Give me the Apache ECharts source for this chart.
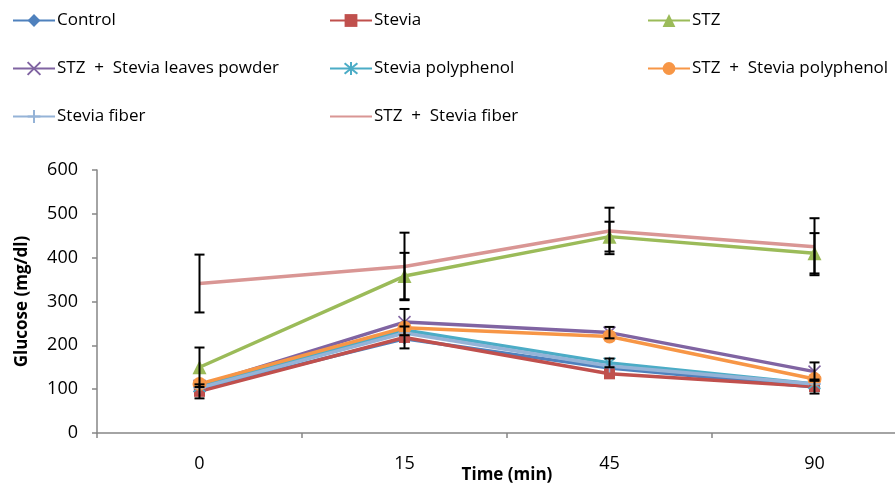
<!DOCTYPE html>
<html>
<head>
<meta charset="utf-8">
<script src="https://cdn.jsdelivr.net/npm/echarts@6/dist/echarts.min.js"></script>
<style>
  html, body { margin: 0; padding: 0; background: #fff; }
  #main { width: 895px; height: 487px; }
</style>
</head>
<body>
<div id="main"></div>
<script>
// time points (min)
var times = ['0', '15', '45', '90'];
var yTicks = [0, 100, 200, 300, 400, 500, 600];

// glucose means (mg/dl)
var control = [100, 215, 148, 105];
var stevia = [95, 218, 135, 106];
var stz = [150, 358, 448, 410];
var stzLeaves = [108, 253, 229, 140];
var polyphenol = [105, 235, 160, 112];
var stzPolyphenol = [112, 240, 220, 123];
var fiber = [103, 228, 153, 112];
var stzFiber = [341, 380, 461, 425];

// error bar half-heights (0 = not shown)
var errStevia = [16, 25, 0, 16];
var errStz = [45, 53, 34, 46];
var errStzLeaves = [0, 30, 13, 21];
var errPolyphenol = [0, 0, 10, 0];
var errStzFiber = [66, 77, 53, 65];

var font = 'Open Sans';
var chart = echarts.init(document.getElementById('main'));

var defs = [
  {name: 'Control', data: control, color: '#4F81BD', symbol: 'diamond', size: 12},
  {name: 'Stevia', data: stevia, color: '#C0504D', symbol: 'rect', size: 11},
  {name: 'STZ', data: stz, color: '#9BBB59', symbol: 'triangle', size: 14},
  {name: 'STZ  +  Stevia leaves powder', data: stzLeaves, color: '#8064A2', symbol: 'path://M0,0L10,10M10,0L0,10', size: 12, stroke: true},
  {name: 'Stevia polyphenol', data: polyphenol, color: '#4BACC6', symbol: 'path://M0,0L10,10M10,0L0,10M5,-1L5,11', size: 12, stroke: true},
  {name: 'STZ  +  Stevia polyphenol', data: stzPolyphenol, color: '#F79646', symbol: 'circle', size: 14},
  {name: 'Stevia fiber', data: fiber, color: '#95B3D7', symbol: 'path://M5,0L5,10M0,5L10,5', size: 13, stroke: true},
  {name: 'STZ  +  Stevia fiber', data: stzFiber, color: '#D99694', symbol: 'none', size: 0}
];

var errDefs = [
  {values: stevia, err: errStevia},
  {values: stz, err: errStz},
  {values: stzLeaves, err: errStzLeaves},
  {values: polyphenol, err: errPolyphenol},
  {values: stzFiber, err: errStzFiber}
];

var errData = [];
errDefs.forEach(function(d) {
  d.err.forEach(function(e, i) {
    if (e > 0) {
      errData.push([i, d.values[i] - e, d.values[i] + e]);
    }
  });
});

var series = defs.map(function(d) {
  return {
    name: d.name,
    type: 'line',
    data: d.data,
    symbol: d.symbol,
    symbolSize: d.size,
    showSymbol: d.symbol != 'none',
    z: 2,
    lineStyle: {color: d.color, width: 3.5},
    itemStyle: d.stroke ? {color: d.color, borderColor: d.color, borderWidth: 1.5} : {color: d.color},
    emphasis: {disabled: true}
  };
});

series.push({
  type: 'custom',
  name: 'err',
  z: 3,
  data: errData,
  renderItem: function(params, api) {
    var x = api.value(0);
    var lo = api.coord([x, api.value(1)]);
    var hi = api.coord([x, api.value(2)]);
    var w = 5;
    var style = {stroke: '#000', lineWidth: 2};
    return {
      type: 'group',
      children: [
        {type: 'line', shape: {x1: lo[0], y1: lo[1], x2: hi[0], y2: hi[1]}, style: style},
        {type: 'line', shape: {x1: lo[0] - w, y1: lo[1], x2: lo[0] + w, y2: lo[1]}, style: style},
        {type: 'line', shape: {x1: hi[0] - w, y1: hi[1], x2: hi[0] + w, y2: hi[1]}, style: style}
      ]
    };
  }
});

// one legend per entry, laid out on a 3-column grid
var colX = [12, 329, 647];
var rowY = [12, 60, 108];
var legends = defs.map(function(d, i) {
  var item = {name: d.name};
  if (d.symbol == 'none') {
    item.itemStyle = {opacity: 0};
  }
  return {
    data: [item],
    left: colX[i % 3],
    top: rowY[Math.floor(i / 3)],
    itemWidth: 42,
    itemHeight: 16,
    itemGap: 0,
    padding: 0,
    selectedMode: false,
    textStyle: {fontFamily: font, fontSize: 17, color: '#000', padding: [0, 0, 0, -3]}
  };
});

var option = {
  animation: false,
  legend: legends,
  grid: {left: 97, top: 170, width: 820, height: 263, outerBoundsMode: 'none', containLabel: false},
  xAxis: {
    type: 'category',
    data: times,
    boundaryGap: true,
    name: 'Time (min)',
    nameLocation: 'middle',
    nameGap: 34,
    nameMoveOverlap: false,
    nameTextStyle: {fontFamily: font, fontSize: 17, fontWeight: 'bold', color: '#000'},
    axisLine: {lineStyle: {color: '#868686', width: 1.5}},
    axisTick: {show: true, length: 5, lineStyle: {color: '#868686', width: 1.5}},
    axisLabel: {fontFamily: font, fontSize: 18, color: '#000', margin: 22},
    splitLine: {show: false}
  },
  yAxis: {
    type: 'value',
    min: yTicks[0],
    max: yTicks[yTicks.length - 1],
    interval: 100,
    name: 'Glucose (mg/dl)',
    nameLocation: 'middle',
    nameGap: 66,
    nameMoveOverlap: false,
    nameTextStyle: {fontFamily: font, fontSize: 17, fontWeight: 'bold', color: '#000'},
    axisLine: {show: true, lineStyle: {color: '#868686', width: 1.5}},
    axisTick: {show: true, length: 5, lineStyle: {color: '#868686', width: 1.5}},
    axisLabel: {fontFamily: font, fontSize: 18, color: '#000', margin: 19},
    splitLine: {show: false}
  },
  series: series
};

chart.setOption(option);
</script>
</body>
</html>
